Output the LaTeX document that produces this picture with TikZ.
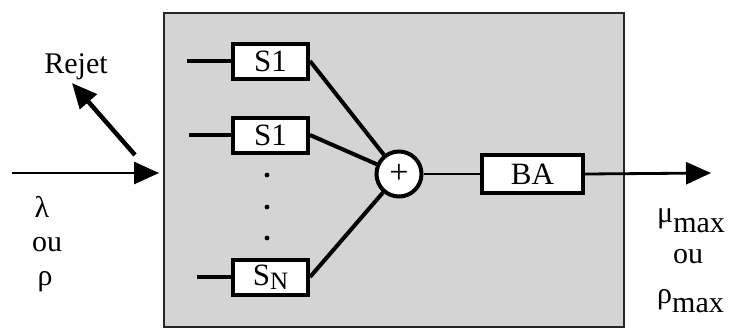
\documentclass[tikz,border=0pt]{standalone}
\usepackage{fontspec}
\setmainfont{Liberation Serif}
\usetikzlibrary{arrows.meta}
\begin{document}
\begin{tikzpicture}[x=1pt,y=-1pt,
  txt/.style={font=\fontsize{30}{32}\selectfont, inner sep=0pt},
  blk/.style={draw, line width=4pt, fill=white, minimum width=75pt, minimum height=35pt, inner sep=0pt, font=\fontsize{31}{32}\selectfont},
  wire/.style={line width=4pt},
  thinwire/.style={line width=2.8pt},
  bigarrow/.style={line width=2.8pt, -{Triangle[length=25pt,width=22pt]}},
]
\useasboundingbox (0,0) rectangle (735,327);
% shaded system box
\node[draw=black!85, line width=2pt, fill=black!17, minimum width=460pt, minimum height=314pt, inner sep=0pt, anchor=north west] (sys) at (163,12) {};
% blocks
\node[blk] (s1) at (270.5,61) {S1};
\node[blk] (s2) at (270.5,135) {S1};
\node[blk] (sn) at (270.5,277) {S\raisebox{-4pt}{\fontsize{25}{26}\selectfont N}};
\node[draw, line width=4pt, fill=white, circle, minimum size=45pt, inner sep=0pt, font=\fontsize{34}{34}\selectfont] (sum) at (399,174) {+};
\node[blk, minimum width=101pt, minimum height=38pt] (ba) at (532.5,174) {BA};
% dots
\foreach \y/\n in {175/d1,207/d2,238/d3} \fill (267,\y) circle (2.4pt) coordinate (\n);
% input stubs
\coordinate (i1) at (187,61);
\coordinate (i2) at (189,135);
\coordinate (i3) at (197,277);
\draw[wire] (i1) -- (s1.west);
\draw[wire] (i2) -- (s2.west);
\draw[wire] (i3) -- (sn.west);
% to sum
\draw[wire] (s1.east) -- (sum);
\draw[wire] (s2.east) -- (sum);
\draw[wire] (sn.east) -- (sum);
\draw[thinwire] (sum) -- (ba);
% input / output arrows
\coordinate (inStart) at (12,173);
\coordinate (inTip) at (159,173);
\draw[bigarrow] (inStart) -- (inTip);
\coordinate (rejStart) at (135,155);
\coordinate (rejTip) at (72,83);
\draw[line width=4.5pt, -{Triangle[length=25pt,width=22pt]}] (rejStart) -- (rejTip);
\coordinate (outTip) at (711,173);
\draw[bigarrow] (ba.east) -- (outTip);
% labels
\node[txt, anchor=base] (rejet) at (76,73) {Rejet};
\node[txt, anchor=base] (lam) at (42,217) {λ};
\node[txt, anchor=base] (ou1) at (47,251) {ou};
\node[txt, anchor=base] (rho) at (45,285) {ρ};
\node[txt, anchor=base west] (mu) at (657,222) {μ\raisebox{-10pt}{max}};
\node[txt, anchor=base] (ou2) at (688,263) {ou};
\node[txt, anchor=base west] (rhom) at (657,303) {ρ\raisebox{-9pt}{max}};
\end{tikzpicture}
\end{document}
